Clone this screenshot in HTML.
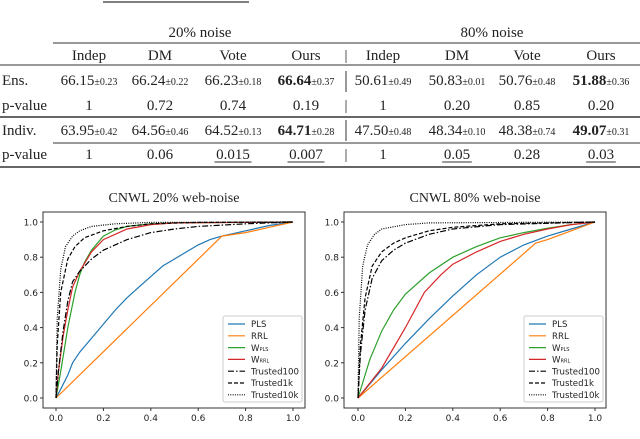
<!DOCTYPE html>
<html><head><meta charset="utf-8"><style>
body{margin:0;background:#fff;}
svg{display:block;}
.tb{font-family:"Liberation Serif",serif;font-size:15px;fill:#222;}
.sm{font-size:10px;}
.tk{font-family:"DejaVu Sans","Liberation Sans",sans-serif;font-size:9px;fill:#222;}
.lg{font-family:"DejaVu Sans","Liberation Sans",sans-serif;font-size:8.6px;fill:#222;}
.tt{font-family:"Liberation Serif",serif;font-size:14px;fill:#222;}
</style></head><body>
<svg id="root" width="640" height="439" viewBox="0 0 640 439" xmlns="http://www.w3.org/2000/svg">
<g id="table"></g>
<g id="c1"></g>
<g id="c2"></g>
</svg>
<script>
// ---------- table data ----------
const colHeaders = ["Indep","DM","Vote","Ours","Indep","DM","Vote","Ours"];
const ensVals = ["66.15","66.24","66.23","66.64","50.61","50.83","50.76","51.88"];
const ensStd = ["0.23","0.22","0.18","0.37","0.49","0.01","0.48","0.36"];
const ensP = ["1","0.72","0.74","0.19","1","0.20","0.85","0.20"];
const indVals = ["63.95","64.56","64.52","64.71","47.50","48.34","48.38","49.07"];
const indStd = ["0.42","0.46","0.13","0.28","0.48","0.10","0.74","0.31"];
const indP = ["1","0.06","0.015","0.007","1","0.05","0.28","0.03"];
const indUnder = [false,false,true,true,false,true,false,true];
const boldCol = [false,false,false,true,false,false,false,true];

// ---------- chart data ----------
const fpr20_PLS=[0,0.02,0.05,0.07,0.1,0.15,0.2,0.25,0.3,0.35,0.4,0.45,0.5,0.55,0.6,0.65,0.7,0.8,0.9,1];
const tpr20_PLS=[0,0.05,0.13,0.2,0.26,0.34,0.42,0.5,0.57,0.63,0.69,0.75,0.79,0.83,0.87,0.9,0.92,0.95,0.98,1];
const fpr20_RRL=[0,0.7,0.8,0.9,1];
const tpr20_RRL=[0,0.92,0.94,0.97,1];
const fpr20_WPLS=[0,0.02,0.05,0.08,0.1,0.12,0.15,0.2,0.25,0.3,0.4,0.5,1];
const tpr20_WPLS=[0,0.15,0.4,0.6,0.7,0.77,0.84,0.92,0.955,0.975,0.99,0.995,1];
const fpr20_WRRL=[0,0.01,0.03,0.05,0.07,0.1,0.15,0.2,0.3,0.4,0.5,1];
const tpr20_WRRL=[0,0.15,0.35,0.5,0.63,0.72,0.83,0.9,0.96,0.985,0.995,1];
const fpr20_T100=[0,0.01,0.03,0.05,0.07,0.1,0.15,0.2,0.3,0.4,0.5,0.6,0.8,1];
const tpr20_T100=[0,0.15,0.38,0.55,0.66,0.72,0.79,0.84,0.9,0.94,0.96,0.975,0.99,1];
const fpr20_T1k=[0,0.005,0.02,0.05,0.08,0.12,0.2,0.3,0.4,0.6,1];
const tpr20_T1k=[0,0.3,0.6,0.79,0.86,0.91,0.95,0.975,0.99,0.998,1];
const fpr20_T10k=[0,0.005,0.02,0.04,0.07,0.1,0.15,0.25,0.4,1];
const tpr20_T10k=[0,0.45,0.73,0.86,0.92,0.95,0.975,0.99,0.998,1];

const fpr80_PLS=[0,0.1,0.2,0.3,0.4,0.5,0.6,0.7,0.8,0.9,1];
const tpr80_PLS=[0,0.16,0.31,0.45,0.58,0.7,0.8,0.87,0.92,0.96,1];
const fpr80_RRL=[0,0.75,0.8,0.9,1];
const tpr80_RRL=[0,0.88,0.9,0.95,1];
const fpr80_WPLS=[0,0.05,0.1,0.15,0.2,0.3,0.4,0.5,0.6,0.7,0.8,0.9,1];
const tpr80_WPLS=[0,0.22,0.38,0.5,0.59,0.71,0.8,0.86,0.91,0.94,0.965,0.985,1];
const fpr80_WRRL=[0,0.1,0.2,0.28,0.35,0.4,0.5,0.6,0.7,0.8,0.9,1];
const tpr80_WRRL=[0,0.17,0.4,0.6,0.7,0.76,0.83,0.89,0.93,0.96,0.985,1];
const fpr80_T100=[0,0.01,0.03,0.06,0.1,0.15,0.2,0.3,0.4,0.6,1];
const tpr80_T100=[0,0.25,0.5,0.68,0.78,0.84,0.88,0.93,0.96,0.985,1];
const fpr80_T1k=[0,0.01,0.03,0.06,0.1,0.15,0.2,0.3,0.4,0.6,1];
const tpr80_T1k=[0,0.3,0.57,0.75,0.83,0.88,0.91,0.95,0.97,0.99,1];
const fpr80_T10k=[0,0.005,0.02,0.04,0.07,0.1,0.2,0.3,1];
const tpr80_T10k=[0,0.45,0.75,0.87,0.93,0.96,0.985,0.995,1];

const tickVals=[0,0.2,0.4,0.6,0.8,1.0];
const tickLabels=["0.0","0.2","0.4","0.6","0.8","1.0"];
const legendLabels=["PLS","RRL","W","W","Trusted100","Trusted1k","Trusted10k"];
const legendSubs=["","","PLS","RRL","","",""];

const NS="http://www.w3.org/2000/svg";
function mk(tag,attrs,parent){const e=document.createElementNS(NS,tag);for(const k in attrs)e.setAttribute(k,attrs[k]);parent.appendChild(e);return e;}

// ---------- table ----------
const T=document.getElementById('table');
const cx=[89,160,233,306,383,457,527,601];
function hline(x1,x2,y,w){const l=mk('line',{x1:x1,x2:x2,y1:y,y2:y,stroke:'#333','stroke-width':w},T);

}
hline(103,249,2,1.2);hline(53,640,43,1);hline(0,640,65,1);hline(0,640,117,1.6);hline(53,640,143,1);hline(0,640,167,1.6);
function txt(x,y,s,cls,anchor){const t=mk('text',{x:x,y:y,class:cls||'tb','text-anchor':anchor||'middle'},T);t.textContent=s;return t;}
let t=txt(200,37,"20% noise");
t=txt(492,37,"80% noise");
colHeaders.forEach((h,i)=>{const e=txt(cx[i],60,h);

});
[[60,"|"],[110,"|"],[159,"|"]].forEach(([y,s])=>{const e=txt(346,y,s);

});
[[71,92],[120,141]].forEach(([a,b])=>{const l=mk('line',{x1:346,x2:346,y1:a,y2:b,stroke:'#333','stroke-width':1},T);

});
const rowLabels=[["Ens.",85],["p-value",110],["Indiv.",135],["p-value",159]];
rowLabels.forEach(([s,y])=>{const e=txt(2,y,s,'tb','start');

});
function valRow(vals,stds,y){vals.forEach((v,i)=>{const e=mk('text',{x:cx[i],y:y,class:'tb','text-anchor':'middle'},T);


const a=mk('tspan',{},e);a.textContent=v;if(boldCol[i])a.setAttribute('font-weight','bold');
const b=mk('tspan',{class:'sm'},e);b.textContent="\u00b1"+stds[i];});}
valRow(ensVals,ensStd,85);valRow(indVals,indStd,135);
ensP.forEach((v,i)=>{const e=txt(cx[i],110,v);

});
indP.forEach((v,i)=>{const e=txt(cx[i],159,v);


if(indUnder[i]){const w=v.length*7.4;const l=mk('line',{x1:cx[i]-w/2,x2:cx[i]+w/2,y1:162,y2:162,stroke:'#333','stroke-width':1},T);

}});

// ---------- charts ----------
const styles=[
 {c:'#1f77b4',d:''},{c:'#ff7f0e',d:''},{c:'#2ca02c',d:''},{c:'#d62728',d:''},
 {c:'#000',d:'6,2,1.5,2'},{c:'#000',d:'4,2'},{c:'#000',d:'1,1.3'}];
const names=["pls","rrl","w-pls","w-rrl","trusted100","trusted1k","trusted10k"];
function chart(g,box,x0,title,xs,ys){
 const X=v=>x0+v*237, Y=v=>398-v*176;
 const r=mk('rect',{x:box[0],y:212,width:box[1]-box[0],height:196,fill:'none',stroke:'#333','stroke-width':1},g);
 
 
 const tt=mk('text',{x:(box[0]+box[1])/2,y:202,class:'tt','text-anchor':'middle'},g);tt.textContent=title;
 
 
 tickVals.forEach((v,i)=>{
  const a=mk('line',{x1:X(v),x2:X(v),y1:408,y2:411,stroke:'#333'},g);
  
  
  const b=mk('text',{x:X(v),y:421,class:'tk','text-anchor':'middle'},g);b.textContent=tickLabels[i];
  
  
  const c=mk('line',{x1:box[0]-3,x2:box[0],y1:Y(v),y2:Y(v),stroke:'#333'},g);
  
  
  const d=mk('text',{x:box[0]-5,y:Y(v)+3.5,class:'tk','text-anchor':'end'},g);d.textContent=tickLabels[i];
  
  
 });
 xs.forEach((xa,k)=>{
  const pts=xa.map((x,j)=>X(x).toFixed(1)+','+Y(ys[k][j]).toFixed(1)).join(' ');
  const p=mk('polyline',{points:pts,fill:'none',stroke:styles[k].c,'stroke-width':1.2,'stroke-dasharray':styles[k].d},g);
  
  
 });
 const lx=box[1]-82;
 const lb=mk('rect',{x:lx,y:316,width:79,height:86,fill:'#fff',stroke:'#ccc','stroke-width':1,rx:2},g);
 
 
 legendLabels.forEach((s,k)=>{
  const y=324+k*11.8;
  const l=mk('line',{x1:lx+5,x2:lx+22,y1:y,y2:y,stroke:styles[k].c,'stroke-width':1.2,'stroke-dasharray':styles[k].d},g);
  
  
  const tx=mk('text',{x:lx+28,y:y+3.2,class:'lg'},g);
  
  
  const a=mk('tspan',{},tx);a.textContent=s;
  if(legendSubs[k]){const b=mk('tspan',{'font-size':'5px'},tx);b.textContent=legendSubs[k];}
 });
}
chart(document.getElementById('c1'),[43,305],56,"CNWL 20% web-noise",
 [fpr20_PLS,fpr20_RRL,fpr20_WPLS,fpr20_WRRL,fpr20_T100,fpr20_T1k,fpr20_T10k],
 [tpr20_PLS,tpr20_RRL,tpr20_WPLS,tpr20_WRRL,tpr20_T100,tpr20_T1k,tpr20_T10k]);
chart(document.getElementById('c2'),[344,606],358,"CNWL 80% web-noise",
 [fpr80_PLS,fpr80_RRL,fpr80_WPLS,fpr80_WRRL,fpr80_T100,fpr80_T1k,fpr80_T10k],
 [tpr80_PLS,tpr80_RRL,tpr80_WPLS,tpr80_WRRL,tpr80_T100,tpr80_T1k,tpr80_T10k]);
</script>
</body></html>
